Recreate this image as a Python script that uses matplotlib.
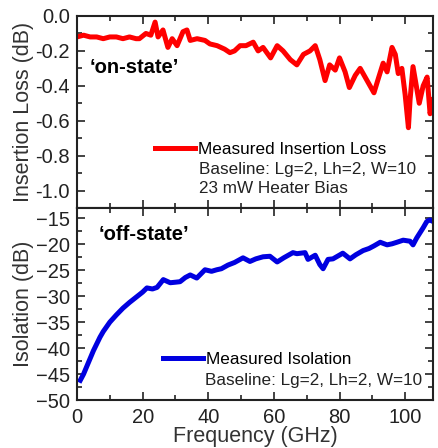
import matplotlib
matplotlib.use("Agg")
import matplotlib.pyplot as plt
from matplotlib.ticker import MultipleLocator

plt.rcParams["font.family"] = ["Liberation Sans", "DejaVu Sans"]

# insertion loss, 'on-state' (GHz, dB)
on_freq = [0, 2, 4, 6, 8, 10, 12, 14, 16, 18, 19, 21, 22.5, 23.8, 24.7, 26.2,
           27.7, 29, 30.5, 32.3, 33.5, 34.5, 36.6, 39, 40.5, 42.7, 45, 46.6,
           48, 49.7, 51.5, 53.7, 55.2, 56.7, 59, 61, 62.8, 65, 67, 69, 71,
           72.6, 74, 75.6, 77, 78.7, 80, 81.7, 83, 84.8, 86.3, 87.8, 89.3,
           90.5, 91.8, 93.3, 94.5, 96, 97, 97.9, 99, 100, 101, 101.5, 102.4,
           103.4, 104.3, 105.5, 106.7, 107.6, 108.5]
on_loss = [-0.12, -0.11, -0.12, -0.12, -0.13, -0.12, -0.12, -0.13, -0.12,
           -0.13, -0.13, -0.10, -0.11, -0.035, -0.12, -0.08, -0.18, -0.13,
           -0.17, -0.09, -0.08, -0.14, -0.13, -0.14, -0.16, -0.17, -0.19,
           -0.21, -0.20, -0.17, -0.17, -0.15, -0.20, -0.18, -0.24, -0.17,
           -0.20, -0.25, -0.28, -0.22, -0.20, -0.17, -0.25, -0.37, -0.28,
           -0.31, -0.24, -0.32, -0.41, -0.34, -0.30, -0.35, -0.40, -0.44,
           -0.36, -0.27, -0.32, -0.18, -0.22, -0.33, -0.30, -0.45, -0.64,
           -0.48, -0.29, -0.40, -0.50, -0.40, -0.35, -0.56, -0.48]

# isolation, 'off-state' (GHz, dB)
off_freq = [1, 2, 3, 4, 5, 6, 7, 8, 10, 12, 14, 16, 18, 20, 21.3, 23, 24.4,
            26.3, 28.4, 30, 31.4, 33, 34.5, 36.5, 39, 41, 42.6, 44, 46, 48,
            50.6, 52.7, 54.5, 56.7, 58.8, 61, 63, 65.8, 67, 69.5, 70.4, 72.6,
            74, 75, 76.5, 78, 80.2, 81, 83.2, 85, 87.2, 89, 90.5, 92.4, 94.5,
            96, 97.5, 99.4, 101.5, 102.4, 103.5, 104.6, 105.5, 106.6, 107.5,
            108.5]
off_iso = [-46.2, -45.0, -43.5, -42.0, -40.5, -39.2, -37.9, -36.8, -35.0,
           -33.6, -32.3, -31.2, -30.2, -29.2, -28.4, -28.6, -28.3, -26.8,
           -27.4, -27.3, -27.2, -26.4, -25.9, -26.5, -24.9, -25.2, -24.9,
           -24.7, -24.0, -23.5, -22.6, -23.3, -22.8, -22.4, -22.3, -23.4,
           -22.6, -21.6, -21.8, -21.6, -22.9, -22.1, -23.9, -24.7, -22.9,
           -22.8, -22.0, -21.7, -22.8, -22.0, -21.2, -20.8, -20.3, -19.6,
           -20.1, -19.9, -19.6, -19.2, -19.4, -20.1, -18.8, -17.7, -16.8,
           -15.6, -15.3, -15.6]

fig = plt.figure(figsize=(4.39, 4.48), dpi=100)
ax_on = fig.add_axes([0.1754, 0.5357, 0.811, 0.4286])
ax_off = fig.add_axes([0.1754, 0.1071, 0.811, 0.4286], sharex=ax_on)

ax_on.plot(on_freq, on_loss, color="#ff0000", lw=3.6,
           label="Measured Insertion Loss")
ax_off.plot(off_freq, off_iso, color="#0000e0", lw=3.6,
            label="Measured Isolation")

ax_on.set_xlim(0, 108.5)
ax_on.set_ylim(-1.1, 0.0)
ax_off.set_ylim(-50, -13)

ax_on.yaxis.set_major_locator(MultipleLocator(0.2))
ax_on.yaxis.set_minor_locator(MultipleLocator(0.1))
ax_off.yaxis.set_major_locator(MultipleLocator(5))
ax_off.yaxis.set_minor_locator(MultipleLocator(2.5))
ax_off.xaxis.set_major_locator(MultipleLocator(20))
ax_off.xaxis.set_minor_locator(MultipleLocator(10))

for ax in (ax_on, ax_off):
    ax.tick_params(which="both", direction="in", top=True, right=True,
                   width=1.2, labelsize=14.5, colors="#222222")
    ax.tick_params(axis="y", which="major", pad=5)
    ax.tick_params(axis="x", which="major", pad=6)
    ax.tick_params(which="major", length=6)
    ax.tick_params(which="minor", length=3.5)
    for side in ax.spines.values():
        side.set_linewidth(1.5)
        side.set_color("#222222")
ax_on.tick_params(labelbottom=False)

ax_on.yaxis.set_major_formatter(plt.FuncFormatter(lambda v, p: f"{v:.1f}"))
ax_on.set_yticks([0.0, -0.2, -0.4, -0.6, -0.8, -1.0])

ax_on.set_ylabel("Insertion Loss (dB)", fontsize=15.5, color="#333333")
ax_off.set_ylabel("Isolation (dB)", fontsize=15.5, color="#333333")
ax_on.yaxis.set_label_coords(-0.12, 0.5)
ax_off.yaxis.set_label_coords(-0.12, 0.5)
ax_off.set_xlabel("Frequency (GHz)", fontsize=15.5, color="#333333", labelpad=-1)

ax_on.text(0.036, 0.73, "\u2018on-state\u2019", transform=ax_on.transAxes,
           fontsize=14.5, fontweight="bold", va="center")
ax_off.text(0.06, 0.86, "\u2018off-state\u2019", transform=ax_off.transAxes,
            fontsize=14.5, fontweight="bold", va="center")

ax_on.legend(loc="center left", bbox_to_anchor=(0.219, 0.304), frameon=False,
             fontsize=12.3, handlelength=2.34, handletextpad=0.18,
             borderpad=0, borderaxespad=0)
ax_on.text(0.343, 0.2, "Baseline: Lg=2, Lh=2, W=10", transform=ax_on.transAxes,
           fontsize=12.3, va="center", color="#222222")
ax_on.text(0.343, 0.101, "23 mW Heater Bias", transform=ax_on.transAxes,
           fontsize=12.3, va="center", color="#222222")

ax_off.legend(loc="center left", bbox_to_anchor=(0.2416, 0.21), frameon=False,
              fontsize=12.3, handlelength=2.34, handletextpad=0.18,
              borderpad=0, borderaxespad=0)
ax_off.text(0.36, 0.104, "Baseline: Lg=2, Lh=2, W=10", transform=ax_off.transAxes,
            fontsize=12.3, va="center", color="#222222")

fig.savefig("out.png", dpi=100)
